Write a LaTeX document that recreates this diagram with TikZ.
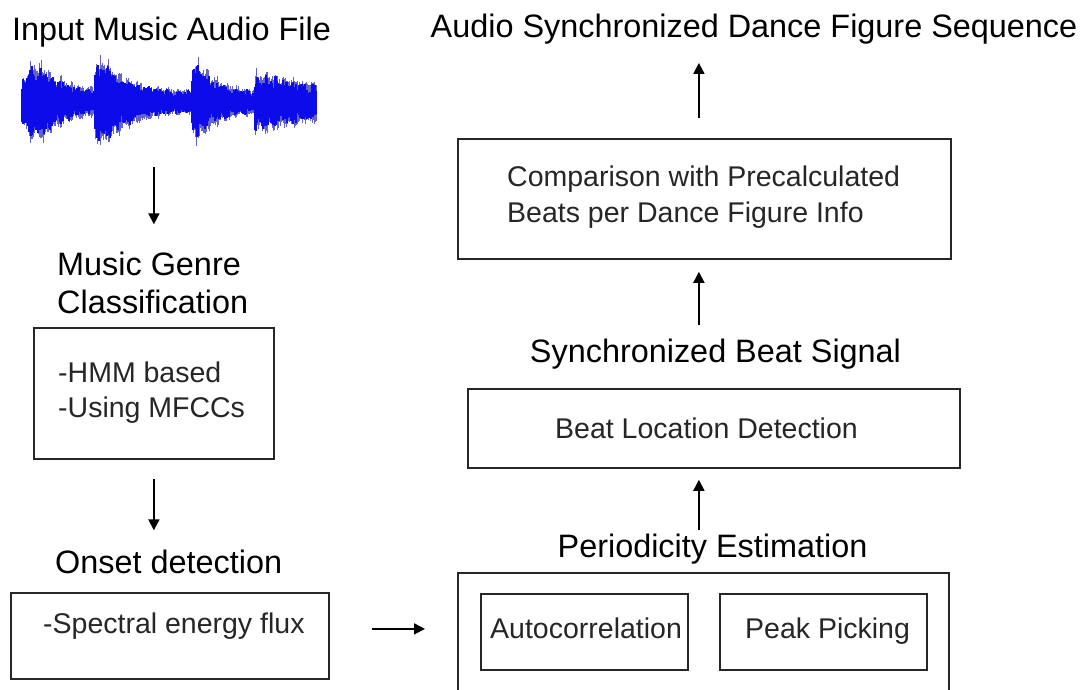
\documentclass[tikz,border=0pt]{standalone}
\usepackage{fontspec}
\setmainfont{Liberation Sans}
\usetikzlibrary{arrows.meta,calc}
\definecolor{wavecore}{RGB}{12,12,235}
\definecolor{wavespike}{RGB}{100,100,200}
\tikzset{
  frame/.style={draw=black!85, line width=1.8pt, inner sep=0pt, anchor=north west},
  heading/.style={font=\fontsize{32.4}{37}\selectfont, inner sep=0pt, text=black},
  body/.style={font=\fontsize{28.5}{36}\selectfont, inner sep=0pt, text=black!85},
  arr/.style={draw=black, line width=1.8pt, -{Triangle[length=11pt,width=11pt]}},
}
\begin{document}
\begin{tikzpicture}[x=1pt,y=-1pt]
\useasboundingbox (0,0) rectangle (1089,689);
\fill[white] (0,0) rectangle (1089,689);

% ---- audio waveform: four decaying bursts with noisy texture ----
\pgfmathsetseed{1234}
\foreach \i in {22,...,316}{
  \pgfmathsetmacro{\wo}{\i<95 ? 22 : (\i<192 ? 95 : (\i<255 ? 192 : 255))}
  \pgfmathsetmacro{\wa}{\i<95 ? 28 : (\i<192 ? 33 : (\i<255 ? 31 : 20))}
  \pgfmathsetmacro{\wt}{\i<95 ? 24 : (\i<192 ? 28 : (\i<255 ? 22 : 60))}
  \pgfmathsetmacro{\wp}{\i<95 ? 22 : (\i<192 ? 10 : (\i<255 ? 6 : 12))}
  \pgfmathsetmacro{\wr}{\i<95 ? min(1,0.55+(\i-22)/12) : 1}
  \pgfmathsetmacro{\env}{\wr*(11 + \wa*exp(-max(0,\i-\wo-\wp)/\wt))*(0.9+0.1*sin(\i*37))}
  \pgfmathsetmacro{\wsu}{\env*(0.75+0.35*rnd)}
  \pgfmathsetmacro{\wsd}{\env*(0.75+0.35*rnd)}
  \pgfmathsetmacro{\wcu}{\env*(0.5+0.45*rnd)}
  \pgfmathsetmacro{\wcd}{\env*(0.5+0.45*rnd)}
  \draw[wavespike, line width=0.7pt] (\i,102-\wsu) -- (\i,102+\wsd);
  \draw[wavecore, line width=1.5pt] (\i,102-\wcu) -- (\i,102+\wcd);
}
\node[inner sep=0pt, minimum width=294pt, minimum height=90pt] (wave) at (169,103) {};

% ---- left column ----
\node[heading, anchor=base] (input) at (171.5,40) {Input Music Audio File};
\node[heading, anchor=base west] (genre1) at (57,275) {Music Genre};
\node[heading, anchor=base west] (genre2) at (57,313) {Classification};
\node[frame, minimum width=240pt, minimum height=131pt] (box1) at (33,327) {};
\node[body, anchor=base west] (hmm1) at (58,382) {-HMM based};
\node[body, anchor=base west] (hmm2) at (58,417) {-Using MFCCs};
\node[heading, anchor=base west] (onset) at (55,573) {Onset detection};
\node[frame, minimum width=318pt, minimum height=86pt] (box2) at (10,592) {};
\node[body, anchor=base west] (flux) at (43,633) {-Spectral energy flux};

% ---- right column ----
\begin{scope}
  \clip (0,0) rectangle (1089,689);
  \node[frame, minimum width=491pt, minimum height=130pt] (period) at (457,572) {};
\end{scope}
\node[frame, minimum width=207pt, minimum height=76pt] (auto) at (480,593) {};
\node[body, anchor=base west] (autotxt) at (490,638) {Autocorrelation};
\node[frame, minimum width=207pt, minimum height=76pt] (peak) at (719,593) {};
\node[body, anchor=base west] (peaktxt) at (745,638) {Peak Picking};
\node[heading, anchor=base] (ptitle) at (712.5,557) {Periodicity Estimation};

\node[frame, minimum width=492pt, minimum height=79pt] (beat) at (467,388) {};
\node[body, anchor=base west] (beattxt) at (555,438) {Beat Location Detection};
\node[heading, anchor=base] (stitle) at (715.5,362) {Synchronized Beat Signal};

\node[frame, minimum width=493pt, minimum height=120pt] (cmp) at (457,138) {};
\node[body, anchor=base west] (cmp1) at (507,186) {Comparison with Precalculated};
\node[body, anchor=base west] (cmp2) at (507,222) {Beats per Dance Figure Info};
\node[heading, anchor=base] (final) at (754,37) {Audio Synchronized Dance Figure Sequence};

% ---- connectors ----
\draw[arr] ($(box1.north |- wave.south)+(0,19)$) -- ($(box1.north |- genre1.north)+(0,-27)$);
\draw[arr] ($(box1.south)+(0,19)$) -- ($(box1.south |- onset.north)+(0,-19)$);
\draw[arr] ($(box2.east)+(42,-7)$) -- ($(box2.east -| period.west)+(-32,-7)$);
\draw[arr] ($(beat.south |- ptitle.north)+(-15,-3)$) -- ($(beat.south)+(-15,11)$);
\draw[arr] ($(cmp.south |- stitle.north)+(-5.5,-13)$) -- ($(cmp.south)+(-5.5,12)$);
\draw[arr] ($(cmp.north)+(-5.5,-20)$) -- ($(cmp.north |- final.south)+(-5.5,19)$);
\end{tikzpicture}
\end{document}
